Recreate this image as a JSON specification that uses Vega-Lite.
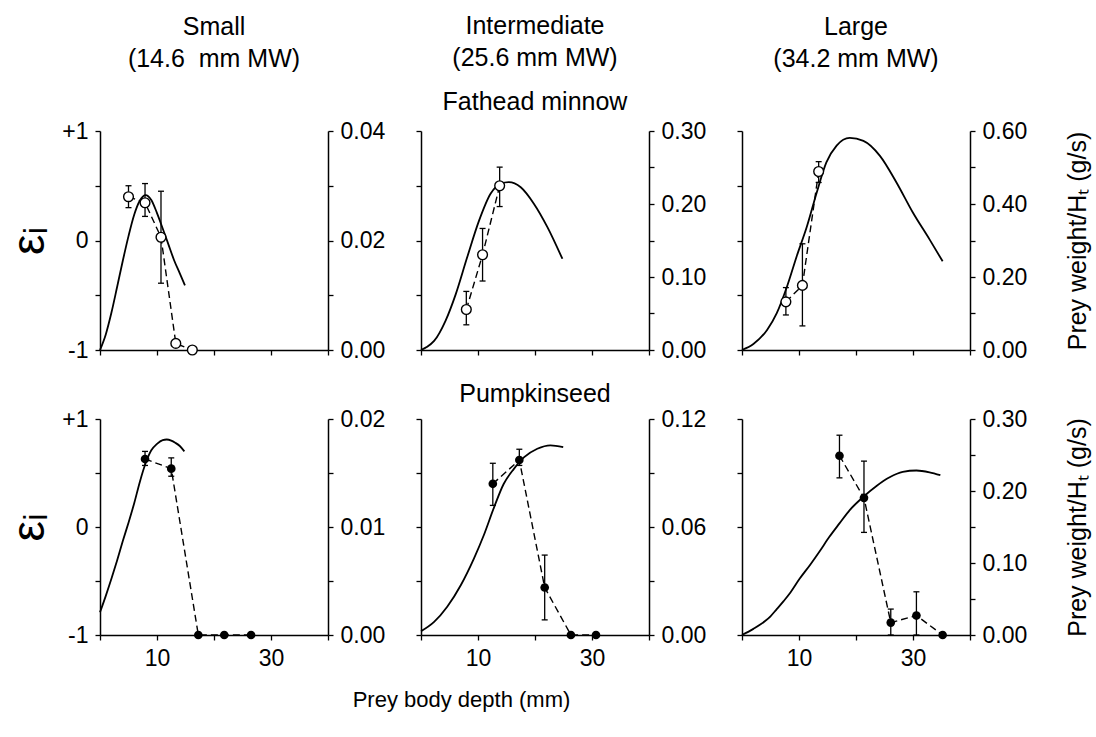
{
  "$schema": "https://vega.github.io/schema/vega-lite/v6.json",
  "background": "white",
  "padding": {"left": 6, "top": 14, "right": 2, "bottom": 2},
  "datasets": {
    "points": [
      {"panel": "P1", "depth": 5.0, "eps": 0.40, "lo": 0.30, "hi": 0.50},
      {"panel": "P1", "depth": 7.9, "eps": 0.345, "lo": 0.22, "hi": 0.52},
      {"panel": "P1", "depth": 10.7, "eps": 0.03, "lo": -0.39, "hi": 0.45},
      {"panel": "P1", "depth": 13.3, "eps": -0.94, "lo": null, "hi": null},
      {"panel": "P1", "depth": 16.2, "eps": -1.0, "lo": null, "hi": null},
      {"panel": "P2", "depth": 7.95, "eps": -0.63, "lo": -0.77, "hi": -0.465},
      {"panel": "P2", "depth": 10.8, "eps": -0.13, "lo": -0.37, "hi": 0.11},
      {"panel": "P2", "depth": 13.8, "eps": 0.50, "lo": 0.31, "hi": 0.67},
      {"panel": "P3", "depth": 7.7, "eps": -0.56, "lo": -0.68, "hi": -0.43},
      {"panel": "P3", "depth": 10.6, "eps": -0.41, "lo": -0.78, "hi": -0.03},
      {"panel": "P3", "depth": 13.45, "eps": 0.63, "lo": 0.53, "hi": 0.72},
      {"panel": "P4", "depth": 7.9, "eps": 0.63, "lo": 0.57, "hi": 0.70},
      {"panel": "P4", "depth": 12.5, "eps": 0.54, "lo": 0.47, "hi": 0.64},
      {"panel": "P4", "depth": 17.25, "eps": -1.0, "lo": null, "hi": null},
      {"panel": "P4", "depth": 21.8, "eps": -1.0, "lo": null, "hi": null},
      {"panel": "P4", "depth": 26.5, "eps": -1.0, "lo": null, "hi": null},
      {"panel": "P5", "depth": 12.6, "eps": 0.40, "lo": 0.20, "hi": 0.59},
      {"panel": "P5", "depth": 17.25, "eps": 0.62, "lo": 0.57, "hi": 0.72},
      {"panel": "P5", "depth": 21.7, "eps": -0.56, "lo": -0.86, "hi": -0.26},
      {"panel": "P5", "depth": 26.3, "eps": -1.0, "lo": null, "hi": null},
      {"panel": "P5", "depth": 30.7, "eps": -1.0, "lo": null, "hi": null},
      {"panel": "P6", "depth": 17.1, "eps": 0.66, "lo": 0.455, "hi": 0.85},
      {"panel": "P6", "depth": 21.4, "eps": 0.27, "lo": -0.05, "hi": 0.61},
      {"panel": "P6", "depth": 26.1, "eps": -0.885, "lo": -1.0, "hi": -0.76},
      {"panel": "P6", "depth": 30.6, "eps": -0.82, "lo": -1.0, "hi": -0.60},
      {"panel": "P6", "depth": 35.2, "eps": -1.0, "lo": null, "hi": null}
    ],
    "curves": [
      {"panel": "P1", "depth": 0, "w": 0},
      {"panel": "P1", "depth": 1, "w": 0.0028},
      {"panel": "P1", "depth": 2, "w": 0.0068},
      {"panel": "P1", "depth": 3, "w": 0.0115},
      {"panel": "P1", "depth": 4, "w": 0.0163},
      {"panel": "P1", "depth": 5, "w": 0.0208},
      {"panel": "P1", "depth": 6, "w": 0.0247},
      {"panel": "P1", "depth": 7, "w": 0.0273},
      {"panel": "P1", "depth": 8, "w": 0.0283},
      {"panel": "P1", "depth": 9, "w": 0.0274},
      {"panel": "P1", "depth": 10, "w": 0.025},
      {"panel": "P1", "depth": 11, "w": 0.0222},
      {"panel": "P1", "depth": 12, "w": 0.0193},
      {"panel": "P1", "depth": 13, "w": 0.0164},
      {"panel": "P1", "depth": 14, "w": 0.014},
      {"panel": "P1", "depth": 14.9, "w": 0.0118},
      {"panel": "P2", "depth": 0, "w": 0},
      {"panel": "P2", "depth": 1, "w": 0.004},
      {"panel": "P2", "depth": 2.3, "w": 0.0124},
      {"panel": "P2", "depth": 4.3, "w": 0.040},
      {"panel": "P2", "depth": 6.1, "w": 0.0766},
      {"panel": "P2", "depth": 8.1, "w": 0.127},
      {"panel": "P2", "depth": 10.2, "w": 0.1775},
      {"panel": "P2", "depth": 12.2, "w": 0.214},
      {"panel": "P2", "depth": 14.0, "w": 0.228},
      {"panel": "P2", "depth": 15.4, "w": 0.230},
      {"panel": "P2", "depth": 17.5, "w": 0.223},
      {"panel": "P2", "depth": 19.8, "w": 0.2005},
      {"panel": "P2", "depth": 22.2, "w": 0.168},
      {"panel": "P2", "depth": 24.8, "w": 0.125},
      {"panel": "P3", "depth": 0, "w": 0},
      {"panel": "P3", "depth": 2.0, "w": 0.0165},
      {"panel": "P3", "depth": 4.4, "w": 0.055},
      {"panel": "P3", "depth": 6.1, "w": 0.101},
      {"panel": "P3", "depth": 7.9, "w": 0.174},
      {"panel": "P3", "depth": 9.6, "w": 0.257},
      {"panel": "P3", "depth": 11.4, "w": 0.339},
      {"panel": "P3", "depth": 13.1, "w": 0.431},
      {"panel": "P3", "depth": 14.8, "w": 0.514},
      {"panel": "P3", "depth": 16.6, "w": 0.560},
      {"panel": "P3", "depth": 18.9, "w": 0.581},
      {"panel": "P3", "depth": 21.3, "w": 0.573},
      {"panel": "P3", "depth": 24.2, "w": 0.532},
      {"panel": "P3", "depth": 27.1, "w": 0.459},
      {"panel": "P3", "depth": 30.0, "w": 0.376},
      {"panel": "P3", "depth": 32.9, "w": 0.303},
      {"panel": "P3", "depth": 35.2, "w": 0.243},
      {"panel": "P4", "depth": 0, "w": 0.0021},
      {"panel": "P4", "depth": 1, "w": 0.0036},
      {"panel": "P4", "depth": 2, "w": 0.0052},
      {"panel": "P4", "depth": 3, "w": 0.0069},
      {"panel": "P4", "depth": 4, "w": 0.0087},
      {"panel": "P4", "depth": 5, "w": 0.0104},
      {"panel": "P4", "depth": 6, "w": 0.0122},
      {"panel": "P4", "depth": 7, "w": 0.0142},
      {"panel": "P4", "depth": 8, "w": 0.0159},
      {"panel": "P4", "depth": 9, "w": 0.0171},
      {"panel": "P4", "depth": 10, "w": 0.0177},
      {"panel": "P4", "depth": 11, "w": 0.01805},
      {"panel": "P4", "depth": 11.7, "w": 0.0181},
      {"panel": "P4", "depth": 12.5, "w": 0.0180},
      {"panel": "P4", "depth": 13.2, "w": 0.0178},
      {"panel": "P4", "depth": 14, "w": 0.0175},
      {"panel": "P4", "depth": 14.8, "w": 0.0170},
      {"panel": "P5", "depth": 0, "w": 0.0021},
      {"panel": "P5", "depth": 2.3, "w": 0.0073},
      {"panel": "P5", "depth": 4.6, "w": 0.0157},
      {"panel": "P5", "depth": 7.0, "w": 0.0278},
      {"panel": "P5", "depth": 9.3, "w": 0.0426},
      {"panel": "P5", "depth": 11.05, "w": 0.0557},
      {"panel": "P5", "depth": 12.8, "w": 0.0708},
      {"panel": "P5", "depth": 14.5, "w": 0.0839},
      {"panel": "P5", "depth": 16.3, "w": 0.0923},
      {"panel": "P5", "depth": 18.1, "w": 0.0988},
      {"panel": "P5", "depth": 20.4, "w": 0.1035},
      {"panel": "P5", "depth": 22.7, "w": 0.1054},
      {"panel": "P5", "depth": 24.95, "w": 0.1044},
      {"panel": "P6", "depth": 0, "w": 0},
      {"panel": "P6", "depth": 2.0, "w": 0.0085},
      {"panel": "P6", "depth": 4.0, "w": 0.019},
      {"panel": "P6", "depth": 5.0, "w": 0.026},
      {"panel": "P6", "depth": 6.0, "w": 0.035},
      {"panel": "P6", "depth": 7.3, "w": 0.047},
      {"panel": "P6", "depth": 8.5, "w": 0.059},
      {"panel": "P6", "depth": 10.1, "w": 0.078},
      {"panel": "P6", "depth": 12.0, "w": 0.098},
      {"panel": "P6", "depth": 13.6, "w": 0.116},
      {"panel": "P6", "depth": 15.3, "w": 0.136},
      {"panel": "P6", "depth": 17.1, "w": 0.155},
      {"panel": "P6", "depth": 18.9, "w": 0.1735},
      {"panel": "P6", "depth": 21.3, "w": 0.192},
      {"panel": "P6", "depth": 23.6, "w": 0.207},
      {"panel": "P6", "depth": 25.9, "w": 0.219},
      {"panel": "P6", "depth": 28.2, "w": 0.2265},
      {"panel": "P6", "depth": 30.6, "w": 0.2285},
      {"panel": "P6", "depth": 32.9, "w": 0.226},
      {"panel": "P6", "depth": 34.8, "w": 0.222}
    ]
  },
  "columns": 3,
  "spacing": {"row": 69, "column": 93},
  "bounds": "flush",
  "concat": [
    {
      "width": 228, "height": 219,
      "title": {"text": ["Small", "(14.6\u00a0 mm MW)"], "offset": 48},
      "layer": [
        {
          "data": {"name": "curves"},
          "transform": [{"filter": "datum.panel == 'P1'"}],
          "mark": {"type": "line", "interpolate": "monotone", "color": "black", "strokeWidth": 1.8},
          "encoding": {
            "x": {"field": "depth", "type": "quantitative", "scale": {"domain": [0, 40], "nice": false}, "axis": {"values": [0, 5, 10, 15, 20, 25, 30, 35, 40], "labels": false, "title": null}},
            "y": {"field": "w", "type": "quantitative", "scale": {"domain": [0, 0.04], "nice": false}, "axis": {"orient": "right", "title": null, "values": [0, 0.01, 0.02, 0.03, 0.04], "labelExpr": "indexof(['0.000','0.020','0.040'], format(datum.value, '.3f')) >= 0 ? format(datum.value, '.2f') : ''"}}
          }
        },
        {
          "data": {"name": "points"},
          "transform": [{"filter": "datum.panel == 'P1'"}],
          "layer": [
            {"mark": {"type": "line", "color": "black", "strokeDash": [7, 4], "strokeWidth": 1.4},
             "encoding": {"x": {"field": "depth", "type": "quantitative"}, "y": {"field": "eps", "type": "quantitative", "scale": {"domain": [-1, 1], "nice": false}, "axis": {"orient": "left", "title": "εᵢ", "titleFontSize": 46, "titlePadding": 8, "values": [-1, -0.5, 0, 0.5, 1], "labelExpr": "datum.value == 1 ? '+1' : datum.value == 0 ? '0' : datum.value == -1 ? '-1' : ''"}}}},
            {"mark": {"type": "rule", "color": "black", "strokeWidth": 1.3},
             "encoding": {"x": {"field": "depth", "type": "quantitative"}, "y": {"field": "lo", "type": "quantitative"}, "y2": {"field": "hi"}}},
            {"mark": {"type": "point", "shape": "M -1 0 L 1 0", "stroke": "black", "strokeWidth": 1.3, "size": 36, "filled": false, "opacity": 1},
             "encoding": {"x": {"field": "depth", "type": "quantitative"}, "y": {"field": "lo", "type": "quantitative"}}},
            {"mark": {"type": "point", "shape": "M -1 0 L 1 0", "stroke": "black", "strokeWidth": 1.3, "size": 36, "filled": false, "opacity": 1},
             "encoding": {"x": {"field": "depth", "type": "quantitative"}, "y": {"field": "hi", "type": "quantitative"}}},
            {"mark": {"type": "circle", "fill": "white", "stroke": "black", "strokeWidth": 1.4, "size": 95, "opacity": 1},
             "encoding": {"x": {"field": "depth", "type": "quantitative"}, "y": {"field": "eps", "type": "quantitative"}}}
          ]
        }
      ],
      "resolve": {"scale": {"y": "independent"}}
    },
    {
      "width": 228, "height": 219,
      "title": {"text": ["Intermediate", "(25.6 mm MW)"], "subtitle": "Fathead minnow", "subtitlePadding": 19, "offset": 5},
      "layer": [
        {
          "data": {"name": "curves"},
          "transform": [{"filter": "datum.panel == 'P2'"}],
          "mark": {"type": "line", "interpolate": "monotone", "color": "black", "strokeWidth": 1.8},
          "encoding": {
            "x": {"field": "depth", "type": "quantitative", "scale": {"domain": [0, 40], "nice": false}, "axis": {"values": [0, 5, 10, 15, 20, 25, 30, 35, 40], "labels": false, "title": null}},
            "y": {"field": "w", "type": "quantitative", "scale": {"domain": [0, 0.3], "nice": false}, "axis": {"orient": "right", "title": null, "values": [0, 0.05, 0.1, 0.15, 0.2, 0.25, 0.3], "labelExpr": "indexof(['0.000','0.100','0.200','0.300'], format(datum.value, '.3f')) >= 0 ? format(datum.value, '.2f') : ''"}}
          }
        },
        {
          "data": {"name": "points"},
          "transform": [{"filter": "datum.panel == 'P2'"}],
          "layer": [
            {"mark": {"type": "line", "color": "black", "strokeDash": [7, 4], "strokeWidth": 1.4},
             "encoding": {"x": {"field": "depth", "type": "quantitative"}, "y": {"field": "eps", "type": "quantitative", "scale": {"domain": [-1, 1], "nice": false}, "axis": {"orient": "left", "title": null, "values": [-1, -0.5, 0, 0.5, 1], "labels": false}}}},
            {"mark": {"type": "rule", "color": "black", "strokeWidth": 1.3},
             "encoding": {"x": {"field": "depth", "type": "quantitative"}, "y": {"field": "lo", "type": "quantitative"}, "y2": {"field": "hi"}}},
            {"mark": {"type": "point", "shape": "M -1 0 L 1 0", "stroke": "black", "strokeWidth": 1.3, "size": 36, "filled": false, "opacity": 1},
             "encoding": {"x": {"field": "depth", "type": "quantitative"}, "y": {"field": "lo", "type": "quantitative"}}},
            {"mark": {"type": "point", "shape": "M -1 0 L 1 0", "stroke": "black", "strokeWidth": 1.3, "size": 36, "filled": false, "opacity": 1},
             "encoding": {"x": {"field": "depth", "type": "quantitative"}, "y": {"field": "hi", "type": "quantitative"}}},
            {"mark": {"type": "circle", "fill": "white", "stroke": "black", "strokeWidth": 1.4, "size": 95, "opacity": 1},
             "encoding": {"x": {"field": "depth", "type": "quantitative"}, "y": {"field": "eps", "type": "quantitative"}}}
          ]
        }
      ],
      "resolve": {"scale": {"y": "independent"}}
    },
    {
      "width": 228, "height": 219,
      "title": {"text": ["Large", "(34.2 mm MW)"], "offset": 48},
      "layer": [
        {
          "data": {"name": "curves"},
          "transform": [{"filter": "datum.panel == 'P3'"}],
          "mark": {"type": "line", "interpolate": "monotone", "color": "black", "strokeWidth": 1.8},
          "encoding": {
            "x": {"field": "depth", "type": "quantitative", "scale": {"domain": [0, 40], "nice": false}, "axis": {"values": [0, 5, 10, 15, 20, 25, 30, 35, 40], "labels": false, "title": null}},
            "y": {"field": "w", "type": "quantitative", "scale": {"domain": [0, 0.6], "nice": false}, "axis": {"orient": "right", "title": "Prey weight/Hₜ (g/s)", "titleAngle": 270, "titlePadding": 64, "values": [0, 0.1, 0.2, 0.3, 0.4, 0.5, 0.6], "labelExpr": "indexof(['0.000','0.200','0.400','0.600'], format(datum.value, '.3f')) >= 0 ? format(datum.value, '.2f') : ''"}}
          }
        },
        {
          "data": {"name": "points"},
          "transform": [{"filter": "datum.panel == 'P3'"}],
          "layer": [
            {"mark": {"type": "line", "color": "black", "strokeDash": [7, 4], "strokeWidth": 1.4},
             "encoding": {"x": {"field": "depth", "type": "quantitative"}, "y": {"field": "eps", "type": "quantitative", "scale": {"domain": [-1, 1], "nice": false}, "axis": {"orient": "left", "title": null, "values": [-1, -0.5, 0, 0.5, 1], "labels": false}}}},
            {"mark": {"type": "rule", "color": "black", "strokeWidth": 1.3},
             "encoding": {"x": {"field": "depth", "type": "quantitative"}, "y": {"field": "lo", "type": "quantitative"}, "y2": {"field": "hi"}}},
            {"mark": {"type": "point", "shape": "M -1 0 L 1 0", "stroke": "black", "strokeWidth": 1.3, "size": 36, "filled": false, "opacity": 1},
             "encoding": {"x": {"field": "depth", "type": "quantitative"}, "y": {"field": "lo", "type": "quantitative"}}},
            {"mark": {"type": "point", "shape": "M -1 0 L 1 0", "stroke": "black", "strokeWidth": 1.3, "size": 36, "filled": false, "opacity": 1},
             "encoding": {"x": {"field": "depth", "type": "quantitative"}, "y": {"field": "hi", "type": "quantitative"}}},
            {"mark": {"type": "circle", "fill": "white", "stroke": "black", "strokeWidth": 1.4, "size": 95, "opacity": 1},
             "encoding": {"x": {"field": "depth", "type": "quantitative"}, "y": {"field": "eps", "type": "quantitative"}}}
          ]
        }
      ],
      "resolve": {"scale": {"y": "independent"}}
    },
    {
      "width": 228, "height": 216,
      "layer": [
        {
          "data": {"name": "curves"},
          "transform": [{"filter": "datum.panel == 'P4'"}],
          "mark": {"type": "line", "interpolate": "monotone", "color": "black", "strokeWidth": 1.8},
          "encoding": {
            "x": {"field": "depth", "type": "quantitative", "scale": {"domain": [0, 40], "nice": false}, "axis": {"values": [0, 5, 10, 15, 20, 25, 30, 35, 40], "title": null, "labelExpr": "datum.value == 10 || datum.value == 30 ? datum.label : ''"}},
            "y": {"field": "w", "type": "quantitative", "scale": {"domain": [0, 0.02], "nice": false}, "axis": {"orient": "right", "title": null, "values": [0, 0.005, 0.01, 0.015, 0.02], "labelExpr": "indexof(['0.000','0.010','0.020'], format(datum.value, '.3f')) >= 0 ? format(datum.value, '.2f') : ''"}}
          }
        },
        {
          "data": {"name": "points"},
          "transform": [{"filter": "datum.panel == 'P4'"}],
          "layer": [
            {"mark": {"type": "line", "color": "black", "strokeDash": [7, 4], "strokeWidth": 1.4},
             "encoding": {"x": {"field": "depth", "type": "quantitative"}, "y": {"field": "eps", "type": "quantitative", "scale": {"domain": [-1, 1], "nice": false}, "axis": {"orient": "left", "title": "εᵢ", "titleFontSize": 46, "titlePadding": 8, "values": [-1, -0.5, 0, 0.5, 1], "labelExpr": "datum.value == 1 ? '+1' : datum.value == 0 ? '0' : datum.value == -1 ? '-1' : ''"}}}},
            {"mark": {"type": "rule", "color": "black", "strokeWidth": 1.3},
             "encoding": {"x": {"field": "depth", "type": "quantitative"}, "y": {"field": "lo", "type": "quantitative"}, "y2": {"field": "hi"}}},
            {"mark": {"type": "point", "shape": "M -1 0 L 1 0", "stroke": "black", "strokeWidth": 1.3, "size": 36, "filled": false, "opacity": 1},
             "encoding": {"x": {"field": "depth", "type": "quantitative"}, "y": {"field": "lo", "type": "quantitative"}}},
            {"mark": {"type": "point", "shape": "M -1 0 L 1 0", "stroke": "black", "strokeWidth": 1.3, "size": 36, "filled": false, "opacity": 1},
             "encoding": {"x": {"field": "depth", "type": "quantitative"}, "y": {"field": "hi", "type": "quantitative"}}},
            {"mark": {"type": "circle", "color": "black", "size": 75, "opacity": 1},
             "encoding": {"x": {"field": "depth", "type": "quantitative"}, "y": {"field": "eps", "type": "quantitative"}}}
          ]
        }
      ],
      "resolve": {"scale": {"y": "independent"}}
    },
    {
      "width": 228, "height": 216,
      "title": {"text": "Pumpkinseed", "offset": 1},
      "layer": [
        {
          "data": {"name": "curves"},
          "transform": [{"filter": "datum.panel == 'P5'"}],
          "mark": {"type": "line", "interpolate": "monotone", "color": "black", "strokeWidth": 1.8},
          "encoding": {
            "x": {"field": "depth", "type": "quantitative", "scale": {"domain": [0, 40], "nice": false}, "axis": {"values": [0, 5, 10, 15, 20, 25, 30, 35, 40], "title": "Prey body depth (mm)", "titleFontSize": 22, "titleX": 40, "titleY": 64, "titleBaseline": "middle", "labelExpr": "datum.value == 10 || datum.value == 30 ? datum.label : ''"}},
            "y": {"field": "w", "type": "quantitative", "scale": {"domain": [0, 0.12], "nice": false}, "axis": {"orient": "right", "title": null, "values": [0, 0.03, 0.06, 0.09, 0.12], "labelExpr": "indexof(['0.000','0.060','0.120'], format(datum.value, '.3f')) >= 0 ? format(datum.value, '.2f') : ''"}}
          }
        },
        {
          "data": {"name": "points"},
          "transform": [{"filter": "datum.panel == 'P5'"}],
          "layer": [
            {"mark": {"type": "line", "color": "black", "strokeDash": [7, 4], "strokeWidth": 1.4},
             "encoding": {"x": {"field": "depth", "type": "quantitative"}, "y": {"field": "eps", "type": "quantitative", "scale": {"domain": [-1, 1], "nice": false}, "axis": {"orient": "left", "title": null, "values": [-1, -0.5, 0, 0.5, 1], "labels": false}}}},
            {"mark": {"type": "rule", "color": "black", "strokeWidth": 1.3},
             "encoding": {"x": {"field": "depth", "type": "quantitative"}, "y": {"field": "lo", "type": "quantitative"}, "y2": {"field": "hi"}}},
            {"mark": {"type": "point", "shape": "M -1 0 L 1 0", "stroke": "black", "strokeWidth": 1.3, "size": 36, "filled": false, "opacity": 1},
             "encoding": {"x": {"field": "depth", "type": "quantitative"}, "y": {"field": "lo", "type": "quantitative"}}},
            {"mark": {"type": "point", "shape": "M -1 0 L 1 0", "stroke": "black", "strokeWidth": 1.3, "size": 36, "filled": false, "opacity": 1},
             "encoding": {"x": {"field": "depth", "type": "quantitative"}, "y": {"field": "hi", "type": "quantitative"}}},
            {"mark": {"type": "circle", "color": "black", "size": 75, "opacity": 1},
             "encoding": {"x": {"field": "depth", "type": "quantitative"}, "y": {"field": "eps", "type": "quantitative"}}}
          ]
        }
      ],
      "resolve": {"scale": {"y": "independent"}}
    },
    {
      "width": 228, "height": 216,
      "layer": [
        {
          "data": {"name": "curves"},
          "transform": [{"filter": "datum.panel == 'P6'"}],
          "mark": {"type": "line", "interpolate": "monotone", "color": "black", "strokeWidth": 1.8},
          "encoding": {
            "x": {"field": "depth", "type": "quantitative", "scale": {"domain": [0, 40], "nice": false}, "axis": {"values": [0, 5, 10, 15, 20, 25, 30, 35, 40], "title": null, "labelExpr": "datum.value == 10 || datum.value == 30 ? datum.label : ''"}},
            "y": {"field": "w", "type": "quantitative", "scale": {"domain": [0, 0.3], "nice": false}, "axis": {"orient": "right", "title": "Prey weight/Hₜ (g/s)", "titleAngle": 270, "titlePadding": 64, "values": [0, 0.05, 0.1, 0.15, 0.2, 0.25, 0.3], "labelExpr": "indexof(['0.000','0.100','0.200','0.300'], format(datum.value, '.3f')) >= 0 ? format(datum.value, '.2f') : ''"}}
          }
        },
        {
          "data": {"name": "points"},
          "transform": [{"filter": "datum.panel == 'P6'"}],
          "layer": [
            {"mark": {"type": "line", "color": "black", "strokeDash": [7, 4], "strokeWidth": 1.4},
             "encoding": {"x": {"field": "depth", "type": "quantitative"}, "y": {"field": "eps", "type": "quantitative", "scale": {"domain": [-1, 1], "nice": false}, "axis": {"orient": "left", "title": null, "values": [-1, -0.5, 0, 0.5, 1], "labels": false}}}},
            {"mark": {"type": "rule", "color": "black", "strokeWidth": 1.3},
             "encoding": {"x": {"field": "depth", "type": "quantitative"}, "y": {"field": "lo", "type": "quantitative"}, "y2": {"field": "hi"}}},
            {"mark": {"type": "point", "shape": "M -1 0 L 1 0", "stroke": "black", "strokeWidth": 1.3, "size": 36, "filled": false, "opacity": 1},
             "encoding": {"x": {"field": "depth", "type": "quantitative"}, "y": {"field": "lo", "type": "quantitative"}}},
            {"mark": {"type": "point", "shape": "M -1 0 L 1 0", "stroke": "black", "strokeWidth": 1.3, "size": 36, "filled": false, "opacity": 1},
             "encoding": {"x": {"field": "depth", "type": "quantitative"}, "y": {"field": "hi", "type": "quantitative"}}},
            {"mark": {"type": "circle", "color": "black", "size": 75, "opacity": 1},
             "encoding": {"x": {"field": "depth", "type": "quantitative"}, "y": {"field": "eps", "type": "quantitative"}}}
          ]
        }
      ],
      "resolve": {"scale": {"y": "independent"}}
    }
  ],
  "config": {
    "font": "Liberation Sans",
    "view": {"stroke": null},
    "axis": {
      "grid": false,
      "domainColor": "black", "domainWidth": 1.5,
      "tickColor": "black", "tickWidth": 1.3, "tickSize": 5,
      "labelColor": "black", "labelFontSize": 23, "labelPadding": 7,
      "labelFlush": false, "labelOverlap": false,
      "titleColor": "black", "titleFontWeight": "normal", "titleFontSize": 25
    },
    "title": {"fontSize": 25, "fontWeight": "normal", "color": "black", "subtitleFontSize": 25, "subtitleColor": "black", "lineHeight": 32}
  }
}
